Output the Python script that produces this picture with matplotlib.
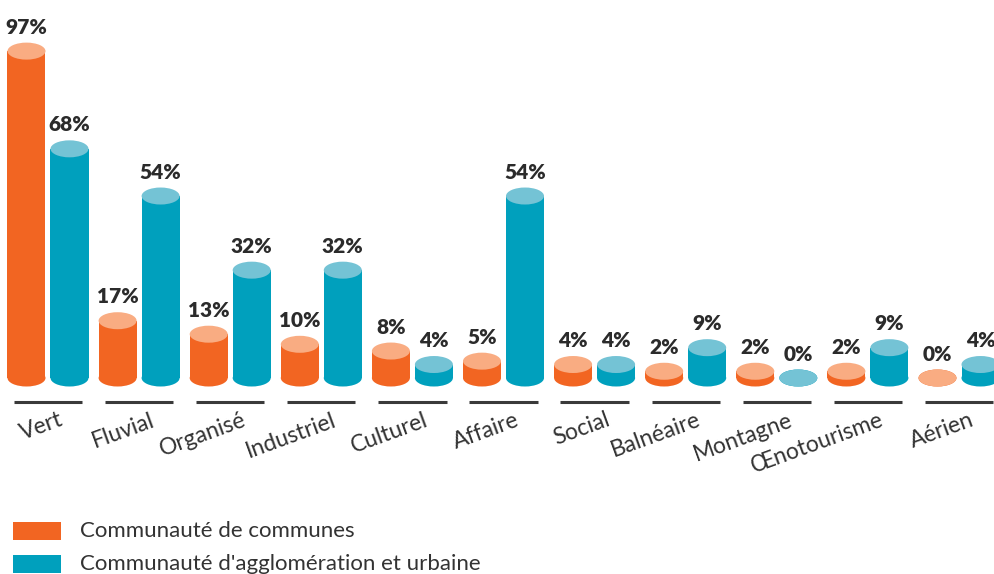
import numpy as np
import matplotlib.pyplot as plt
from matplotlib.patches import Rectangle, Ellipse

categories = ["Vert", "Fluvial", "Organisé", "Industriel", "Culturel", "Affaire",
              "Social", "Balnéaire", "Montagne", "Œnotourisme", "Aérien"]
cc_values = [97, 17, 13, 10, 8, 5, 4, 2, 2, 2, 0]      # Communauté de communes
ca_values = [68, 54, 32, 32, 4, 54, 4, 9, 0, 9, 4]     # Communauté d'agglomération et urbaine
series_names = ["Communauté de communes", "Communauté d'agglomération et urbaine"]

ORANGE, ORANGE_TOP = "#F26522", "#F9AC82"
TEAL, TEAL_TOP = "#00A0BD", "#74C3D5"
TEXT = "#2b2b2b"

W, H = 995, 574
fig = plt.figure(figsize=(W / 100, H / 100), dpi=100)
ax = fig.add_axes([0, 0, 1, 1])

# pixel-ish scale: one group = 91.1 px, 1 % = 3.37 px, baseline at 378 px
px_x, px_y = 91.1, 3.37
x0, y0 = 48, 378
ax.set_xlim(-x0 / px_x, (W - x0) / px_x)
ax.set_ylim(-(H - y0) / px_y, y0 / px_y)
ax.axis("off")

bar_w = 38 / px_x
offset = 21.5 / px_x
ell_h = 17 / px_y


def cylinder(xc, v, side, top):
    ax.add_patch(Ellipse((xc, 0), bar_w, ell_h, facecolor=side, edgecolor="none", zorder=2))
    ax.add_patch(Rectangle((xc - bar_w / 2, 0), bar_w, v, facecolor=side, edgecolor="none", zorder=2))
    ax.add_patch(Ellipse((xc, v), bar_w, ell_h, facecolor=top, edgecolor="none", zorder=3))
    ax.annotate(f"{v}%", (xc, v), xytext=(0, 12.5), textcoords="offset points",
                ha="center", va="baseline", fontsize=15, fontweight="heavy",
                family="Lato", color=TEXT, zorder=4)


x = np.arange(len(categories))
for i, cat in enumerate(categories):
    cylinder(x[i] - offset, cc_values[i], ORANGE, ORANGE_TOP)
    cylinder(x[i] + offset, ca_values[i], TEAL, TEAL_TOP)
    # underline under each group
    ax.plot([x[i] - 0.375, x[i] + 0.375], [-7.1, -7.1], color="#3a3a3a",
            lw=2.2, solid_capstyle="butt", zorder=1)
    ax.text(x[i] + 0.12, -9.3, cat, rotation=20, rotation_mode="anchor",
            ha="right", va="top", fontsize=16.5, family="Lato", fontweight="normal",
            color="#333333")

# legend, drawn as swatches + text below the chart
for j, (name, col) in enumerate(zip(series_names, [ORANGE, TEAL])):
    yl = -45.3 - j * 9.8
    ax.add_patch(Rectangle((-0.384, yl - 2.7), 48 / px_x, 18 / px_y,
                           facecolor=col, edgecolor="none"))
    ax.text(0.352, yl, name, ha="left", va="center", fontsize=16,
            family="Lato", fontweight="normal", color="#333333")

fig.savefig("out.png", dpi=100)
